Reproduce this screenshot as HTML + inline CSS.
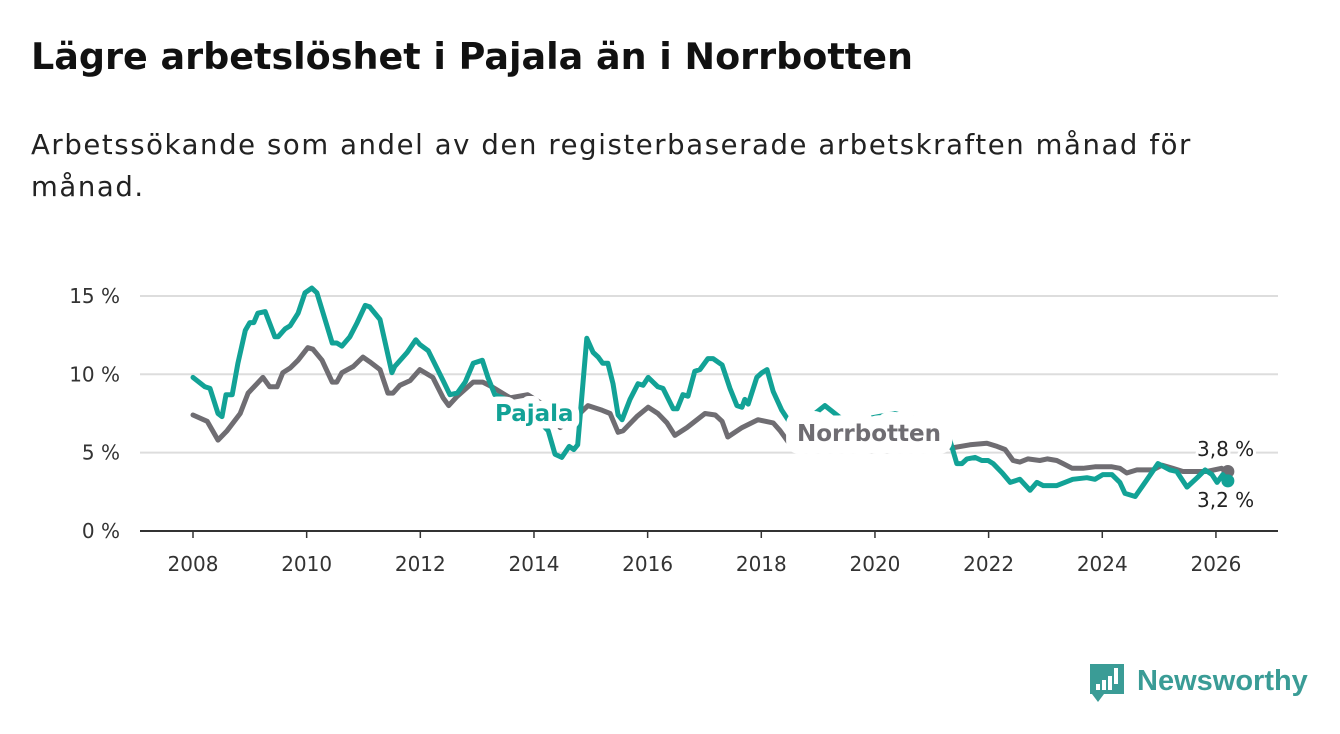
<!DOCTYPE html>
<html><head><meta charset="utf-8">
<style>
body{margin:0;width:1340px;height:734px;background:#fff;font-family:"DejaVu Sans","Liberation Sans",sans-serif;overflow:hidden;position:relative}
h1{position:absolute;left:31px;top:35px;margin:0;font-size:36.5px;font-weight:bold;color:#111;white-space:nowrap}
.sub{position:absolute;left:31px;top:124px;margin:0;font-size:27.5px;line-height:42px;color:#222;width:1290px;letter-spacing:1.6px;white-space:nowrap}
svg{position:absolute;left:0;top:0}
</style></head><body>
<h1>Lägre arbetslöshet i Pajala än i Norrbotten</h1>
<p class="sub">Arbetssökande som andel av den registerbaserade arbetskraften månad för<br>månad.</p>
<svg id="chart" width="1340" height="734"></svg>
<svg width="1340" height="734" style="pointer-events:none">
<path d="M1090 664 h34 v30 h-20 l-6 8 l-6 -8 h-2 z" fill="#3a9c96"/>
<rect x="1096" y="684" width="4" height="6" fill="#fff"/><rect x="1102" y="680" width="4" height="10" fill="#fff"/><rect x="1108" y="676" width="4" height="14" fill="#fff"/><rect x="1114" y="668" width="4" height="16" fill="#fff"/>
<text x="1137" y="690" font-size="29" font-weight="bold" fill="#3a9c96" font-family="Liberation Sans, sans-serif">Newsworthy</text>
</svg>
<script>
const pajYears=[2008,2008.21,2008.3,2008.44,2008.51,2008.58,2008.69,2008.79,2008.92,2009,2009.07,2009.14,2009.27,2009.44,2009.5,2009.62,2009.71,2009.85,2009.97,2010.09,2010.18,2010.45,2010.53,2010.62,2010.76,2010.89,2011.03,2011.11,2011.29,2011.5,2011.55,2011.77,2011.92,2011.99,2012.14,2012.4,2012.52,2012.65,2012.79,2012.93,2013.09,2013.19,2013.31,2013.58,2013.93,2014.25,2014.37,2014.49,2014.62,2014.7,2014.77,2014.93,2015.04,2015.13,2015.21,2015.3,2015.39,2015.48,2015.55,2015.69,2015.83,2015.92,2016.01,2016.18,2016.27,2016.45,2016.52,2016.62,2016.71,2016.83,2016.92,2017.06,2017.15,2017.31,2017.45,2017.57,2017.66,2017.71,2017.77,2017.92,2018.01,2018.1,2018.21,2018.36,2018.47,2018.54,2018.77,2019.12,2019.47,2019.91,2020.35,2020.79,2021.23,2021.36,2021.44,2021.53,2021.62,2021.76,2021.88,2021.99,2022.08,2022.24,2022.38,2022.55,2022.73,2022.85,2022.96,2023.2,2023.34,2023.48,2023.73,2023.87,2024.01,2024.17,2024.31,2024.4,2024.58,2024.79,2024.98,2025.19,2025.31,2025.49,2025.67,2025.81,2025.93,2026.02,2026.12,2026.21];
const pajValues=[9.8,9.2,9.1,7.5,7.3,8.7,8.7,10.7,12.8,13.3,13.3,13.9,14.0,12.4,12.4,12.9,13.1,13.9,15.2,15.5,15.2,12.0,12.0,11.8,12.4,13.3,14.4,14.3,13.5,10.1,10.5,11.4,12.2,11.9,11.5,9.6,8.7,8.8,9.5,10.7,10.9,9.8,8.7,8.3,7.6,6.4,4.9,4.7,5.4,5.2,5.5,12.3,11.4,11.1,10.7,10.7,9.4,7.4,7.1,8.4,9.4,9.3,9.8,9.2,9.1,7.8,7.8,8.7,8.6,10.2,10.3,11.0,11.0,10.6,9.1,8.0,7.9,8.4,8.1,9.8,10.1,10.3,8.9,7.7,7.1,6.6,7.0,8.0,7.0,7.2,7.5,7.1,6.8,5.3,4.3,4.3,4.6,4.7,4.5,4.5,4.3,3.7,3.1,3.3,2.6,3.1,2.9,2.9,3.1,3.3,3.4,3.3,3.6,3.6,3.1,2.4,2.2,3.3,4.3,3.9,3.8,2.8,3.4,3.9,3.6,3.1,3.6,3.2];
const norYears=[2008,2008.25,2008.44,2008.6,2008.83,2008.97,2009.23,2009.35,2009.48,2009.58,2009.71,2009.85,2010.02,2010.11,2010.27,2010.45,2010.53,2010.62,2010.82,2010.99,2011.11,2011.29,2011.43,2011.52,2011.64,2011.82,2011.99,2012.22,2012.4,2012.5,2012.65,2012.93,2013.1,2013.26,2013.58,2013.89,2014.19,2014.46,2014.72,2014.95,2015.2,2015.34,2015.48,2015.57,2015.81,2016.01,2016.18,2016.34,2016.48,2016.69,2017.01,2017.19,2017.31,2017.41,2017.66,2017.94,2018.21,2018.33,2018.47,2018.56,2019.03,2019.47,2019.91,2020.35,2020.79,2021.23,2021.36,2021.67,2021.97,2022.15,2022.29,2022.43,2022.55,2022.69,2022.9,2023.03,2023.2,2023.31,2023.47,2023.66,2023.87,2024.17,2024.31,2024.43,2024.61,2024.89,2025.05,2025.24,2025.42,2025.84,2026.1,2026.21];
const norValues=[7.4,7.0,5.8,6.4,7.5,8.8,9.8,9.2,9.2,10.1,10.4,10.9,11.7,11.6,10.9,9.5,9.5,10.1,10.5,11.1,10.8,10.3,8.8,8.8,9.3,9.6,10.3,9.8,8.5,8.0,8.6,9.5,9.5,9.2,8.5,8.7,8.0,6.6,7.2,8.0,7.7,7.5,6.3,6.4,7.3,7.9,7.5,6.9,6.1,6.6,7.5,7.4,7.0,6.0,6.6,7.1,6.9,6.4,5.7,5.5,5.8,5.8,6.0,6.2,5.9,5.5,5.3,5.5,5.6,5.4,5.2,4.5,4.4,4.6,4.5,4.6,4.5,4.3,4.0,4.0,4.1,4.1,4.0,3.7,3.9,3.9,4.2,4.0,3.8,3.8,4.0,3.8];
const yTicks=[0,5,10,15];
const yTickLabels=["0 %","5 %","10 %","15 %"];
const xTicks=[2008,2010,2012,2014,2016,2018,2020,2022,2024,2026];

const NS="http://www.w3.org/2000/svg";
const svg=document.getElementById('chart');
const X=y=>193+(y-2008)*56.83;
const Y=v=>531-v*15.67;
function mk(t,a,p){const e=document.createElementNS(NS,t);for(const k in a)e.setAttribute(k,a[k]);(p||svg).appendChild(e);return e;}
yTicks.forEach((t,i)=>{
  const g=mk('line',{x1:140,x2:1278,y1:Y(t),y2:Y(t),stroke:t===0?'#333':'#ddd','stroke-width':2});
  
  
  const l=mk('text',{x:120,y:Y(t)+7,'text-anchor':'end','font-size':20,fill:'#333'});
  l.textContent=yTickLabels[i];
  
  
});
xTicks.forEach(t=>{
  const tk=mk('line',{x1:X(t),x2:X(t),y1:531,y2:538,stroke:'#333','stroke-width':1.5});
  
  
  const l=mk('text',{x:X(t),y:571,'text-anchor':'middle','font-size':20,fill:'#333'});
  l.textContent=t;
  
  
});
function line(ys,vs,col,name){
  const d=ys.map((y,i)=>(i?'L':'M')+X(y).toFixed(1)+' '+Y(vs[i]).toFixed(1)).join(' ');
  const p=mk('path',{d:d,fill:'none',stroke:col,'stroke-width':5,'stroke-linejoin':'round','stroke-linecap':'round'});
  
  
  const c=mk('circle',{cx:X(ys[ys.length-1]),cy:Y(vs[vs.length-1]),r:6.5,fill:col});
  
  
}
line(norYears,norValues,'#6f6d72','norrbotten-line');
line(pajYears,pajValues,'#12a296','pajala-line');
function lab(x,y,txt,col,name,sz,bold,halo){
  const t=mk('text',{x:x,y:y,'font-size':sz,'font-weight':bold?'bold':'normal',fill:col,stroke:'#fff','stroke-width':halo,'stroke-linejoin':'round','paint-order':'stroke'});
  t.textContent=txt;
  
  
}
lab(495,421,'Pajala','#12a296','pajala-label',23,true,15);
lab(797,441,'Norrbotten','#6f6d72','norrbotten-label',23,true,26);
lab(1197,456,'3,8 %','#222','norrbotten-end-value',20,false,6);
lab(1197,507,'3,2 %','#222','pajala-end-value',20,false,6);
</script>
</body></html>
